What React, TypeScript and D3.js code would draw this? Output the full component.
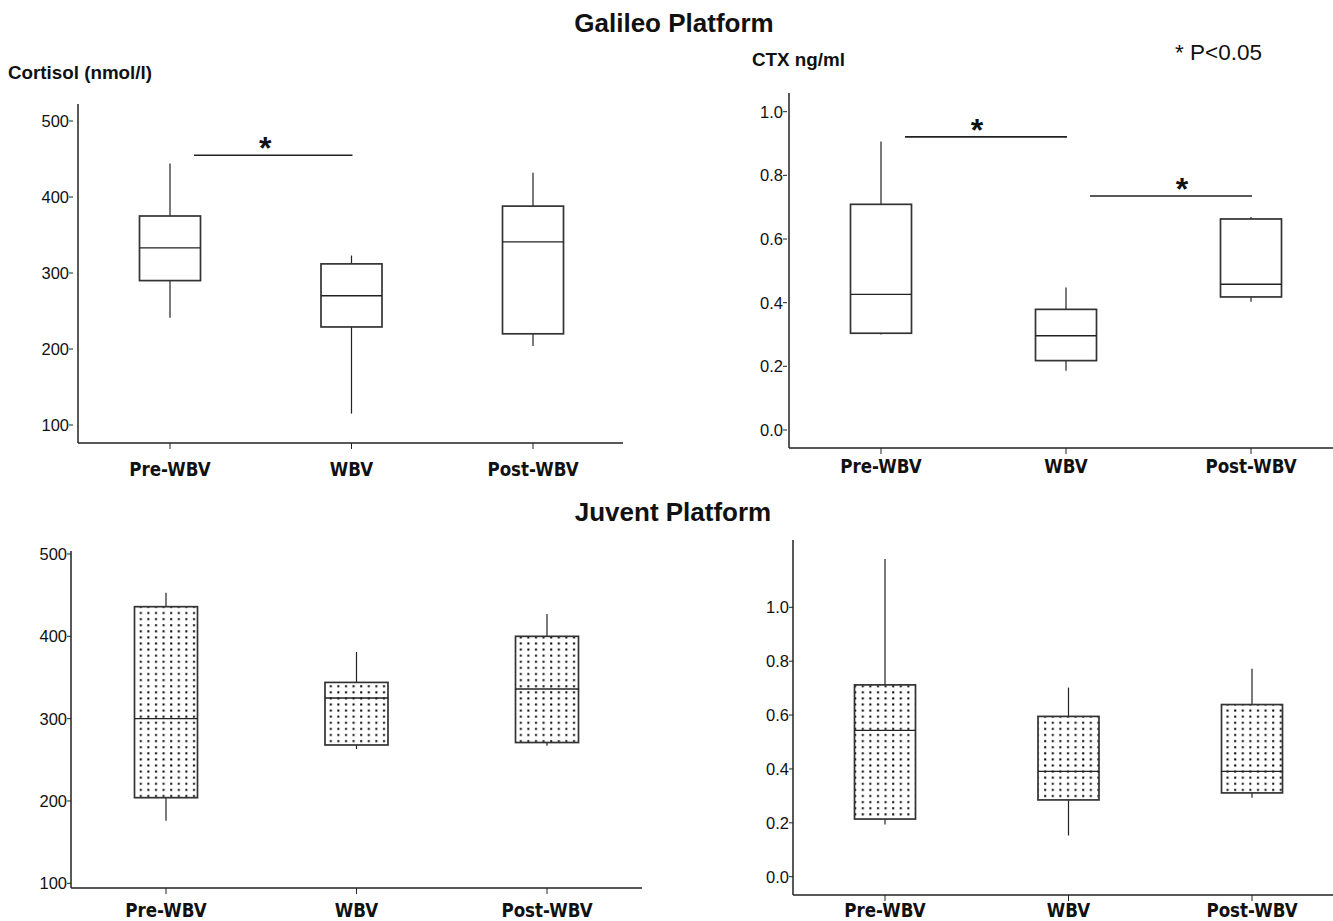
import React, { useRef, useEffect } from "react";
import * as d3 from "d3";

// box values: [lower whisker, Q1, median, Q3, upper whisker]
const groups = ["Pre-WBV", "WBV", "Post-WBV"];

const galileoCortisol = [
  [241, 290, 333, 375, 444],
  [115, 229, 270, 312, 323],
  [204, 220, 341, 388, 432],
];
const galileoCtx = [
  [0.3, 0.304, 0.426, 0.709, 0.906],
  [0.186, 0.218, 0.296, 0.379, 0.448],
  [0.403, 0.418, 0.458, 0.663, 0.669],
];
const juventCortisol = [
  [176, 204, 300, 436, 453],
  [263, 268, 325, 344, 381],
  [267, 271, 336, 400, 427],
];
const juventCtx = [
  [0.194, 0.214, 0.543, 0.712, 1.179],
  [0.153, 0.285, 0.391, 0.595, 0.702],
  [0.293, 0.311, 0.391, 0.639, 0.772],
];

const cortisolTicks = [100, 200, 300, 400, 500];
const ctxTicks = [0, 0.2, 0.4, 0.6, 0.8, 1.0];

// significance bars: between group indexes, at a y value
const galileoCortisolSig = [{ from: 0, to: 1, value: 455 }];
const galileoCtxSig = [
  { from: 0, to: 1, value: 0.921 },
  { from: 1, to: 2, value: 0.735 },
];

type Sig = { from: number; to: number; value: number };
type Panel = {
  data: number[][];
  ticks: number[];
  fmt: (v: number) => string;
  domain: [number, number];
  range: [number, number];
  axisTop: number;
  axisBottom: number;
  xLeft: number;
  xRight: number;
  catRange: [number, number];
  boxW: number;
  dotted: boolean;
  sig: Sig[];
  starDx: number[];
  tickGap: number;
  label?: string;
  labelX?: number;
  labelY?: number;
  catY: number;
};

const panels: Panel[] = [
  {
    data: galileoCortisol, ticks: cortisolTicks, fmt: d3.format("d"),
    domain: [100, 500], range: [425, 121], axisTop: 104, axisBottom: 443,
    xLeft: 78, xRight: 623, catRange: [170, 533], boxW: 61, dotted: false,
    sig: galileoCortisolSig, starDx: [-8], tickGap: 5,
    label: "Cortisol (nmol/l)", labelX: 8, labelY: 79, catY: 476,
  },
  {
    data: galileoCtx, ticks: ctxTicks, fmt: d3.format(".1f"),
    domain: [0, 1], range: [430, 111.7], axisTop: 93, axisBottom: 448,
    xLeft: 789, xRight: 1333, catRange: [881, 1251], boxW: 61, dotted: false,
    sig: galileoCtxSig, starDx: [-9, 11], tickGap: 2,
    label: "CTX ng/ml", labelX: 752, labelY: 66, catY: 473,
  },
  {
    data: juventCortisol, ticks: cortisolTicks, fmt: d3.format("d"),
    domain: [100, 500], range: [883.3, 554], axisTop: 551, axisBottom: 888,
    xLeft: 71, xRight: 642, catRange: [166, 547], boxW: 63, dotted: true,
    sig: [], starDx: [], tickGap: 0, catY: 917,
  },
  {
    data: juventCtx, ticks: ctxTicks, fmt: d3.format(".1f"),
    domain: [0, 1], range: [876.7, 607.3], axisTop: 540, axisBottom: 895,
    xLeft: 793, xRight: 1333, catRange: [885, 1252], boxW: 61, dotted: true,
    sig: [], starDx: [], tickGap: 0, catY: 917,
  },
];

const INK = "#222";
const SANS = "Liberation Sans, Arial, Helvetica, sans-serif";
const NARROW = "Liberation Sans Narrow, Arial Narrow, sans-serif";
const WIDE = "DejaVu Sans, Verdana, sans-serif";

const App: React.FC = () => {
  const svgRef = useRef<SVGSVGElement | null>(null);
  const width = 1333;
  const height = 921;

  useEffect(() => {
    const svg = d3.select(svgRef.current);
    svg.selectAll("*").remove();

    const defs = svg.append("defs");
    const pat = defs
      .append("pattern")
      .attr("id", "dots")
      .attr("patternUnits", "userSpaceOnUse")
      .attr("width", 7.6)
      .attr("height", 6.1);
    pat.append("rect").attr("width", 7.6).attr("height", 6.1).attr("fill", "#fff");
    pat.append("rect").attr("x", 3).attr("y", 2).attr("width", 2).attr("height", 2).attr("fill", "#000");

    svg.append("rect").attr("width", width).attr("height", height).attr("fill", "#fff");

    // titles
    svg.append("text").attr("x", 674).attr("y", 32).attr("text-anchor", "middle")
      .attr("font-family", SANS).attr("font-weight", "bold")
      .attr("font-size", 26).attr("fill", "#111").text("Galileo Platform");
    svg.append("text").attr("x", 673).attr("y", 521).attr("text-anchor", "middle")
      .attr("font-family", SANS).attr("font-weight", "bold")
      .attr("font-size", 26).attr("fill", "#111").text("Juvent Platform");
    svg.append("text").attr("x", 1175).attr("y", 60)
      .attr("font-family", SANS)
      .attr("font-size", 22.5).attr("fill", "#111").text("* P<0.05");

    panels.forEach((p) => {
      const g = svg.append("g");
      const y = d3.scaleLinear().domain(p.domain).range(p.range);
      const x = d3.scalePoint<string>().domain(groups).range(p.catRange);

      if (p.label) {
        g.append("text").attr("x", p.labelX!).attr("y", p.labelY!)
          .attr("font-family", SANS).attr("font-weight", "bold")
          .attr("font-size", 18.8).attr("fill", "#111").text(p.label);
      }

      // y axis
      g.append("line").attr("x1", p.xLeft).attr("x2", p.xLeft)
        .attr("y1", p.axisTop).attr("y2", p.axisBottom)
        .attr("stroke", INK).attr("stroke-width", 1.5);
      const yt = g.selectAll(".ytick").data(p.ticks).enter().append("g")
        .attr("transform", (d) => `translate(${p.xLeft - p.tickGap},${y(d)})`);
      yt.append("line").attr("x1", -4).attr("x2", 0).attr("stroke", INK).attr("stroke-width", 1);
      yt.append("text").attr("x", -4).attr("dy", "0.36em").attr("text-anchor", "end")
        .attr("font-family", NARROW).attr("font-size", 16.5)
        .attr("fill", "#111").text((d) => p.fmt(d));

      // x axis
      g.append("line").attr("x1", p.xLeft).attr("x2", p.xRight)
        .attr("y1", p.axisBottom).attr("y2", p.axisBottom)
        .attr("stroke", INK).attr("stroke-width", 1.5);
      const xt = g.selectAll(".xtick").data(groups).enter().append("g")
        .attr("transform", (d) => `translate(${x(d)},${p.axisBottom})`);
      xt.append("line").attr("y1", 0).attr("y2", 6).attr("stroke", INK).attr("stroke-width", 1);
      g.selectAll(".xlab").data(groups).enter().append("text")
        .attr("transform", (d) => `translate(${x(d)},${p.catY}) scale(0.88,1)`)
        .attr("text-anchor", "middle")
        .attr("font-family", WIDE).attr("font-weight", "bold")
        .attr("font-size", 19).attr("fill", "#111").text((d) => d);

      // boxes
      p.data.forEach((b, i) => {
        const cx = x(groups[i])!;
        const [lo, q1, med, q3, hi] = b;
        const bx = g.append("g");
        bx.append("line").attr("x1", cx).attr("x2", cx).attr("y1", y(hi)).attr("y2", y(q3))
          .attr("stroke", INK).attr("stroke-width", 1.2);
        bx.append("line").attr("x1", cx).attr("x2", cx).attr("y1", y(q1)).attr("y2", y(lo))
          .attr("stroke", INK).attr("stroke-width", 1.2);
        bx.append("rect").attr("x", cx - p.boxW / 2).attr("width", p.boxW)
          .attr("y", y(q3)).attr("height", y(q1) - y(q3))
          .attr("fill", p.dotted ? "url(#dots)" : "#fff")
          .attr("stroke", "#333").attr("stroke-width", 1.7);
        bx.append("line").attr("x1", cx - p.boxW / 2).attr("x2", cx + p.boxW / 2)
          .attr("y1", y(med)).attr("y2", y(med))
          .attr("stroke", INK).attr("stroke-width", 1.4);
      });

      // significance bars
      p.sig.forEach((s, k) => {
        const xa = x(groups[s.from])! + 24;
        const xb = x(groups[s.to])! + 1;
        const yy = y(s.value);
        g.append("line").attr("x1", xa).attr("x2", xb).attr("y1", yy).attr("y2", yy)
          .attr("stroke", INK).attr("stroke-width", 1.6);
        g.append("text").attr("x", (xa + xb) / 2 + p.starDx[k]).attr("y", yy + 4)
          .attr("text-anchor", "middle")
          .attr("font-family", SANS).attr("font-weight", "bold")
          .attr("font-size", 32).attr("fill", "#111").text("*");
      });
    });
  }, []);

  return (
    <div style={{ position: "absolute", left: 0, top: 0 }}>
      <svg ref={svgRef} width={width} height={height} style={{ display: "block" }} />
    </div>
  );
};

export default App;
